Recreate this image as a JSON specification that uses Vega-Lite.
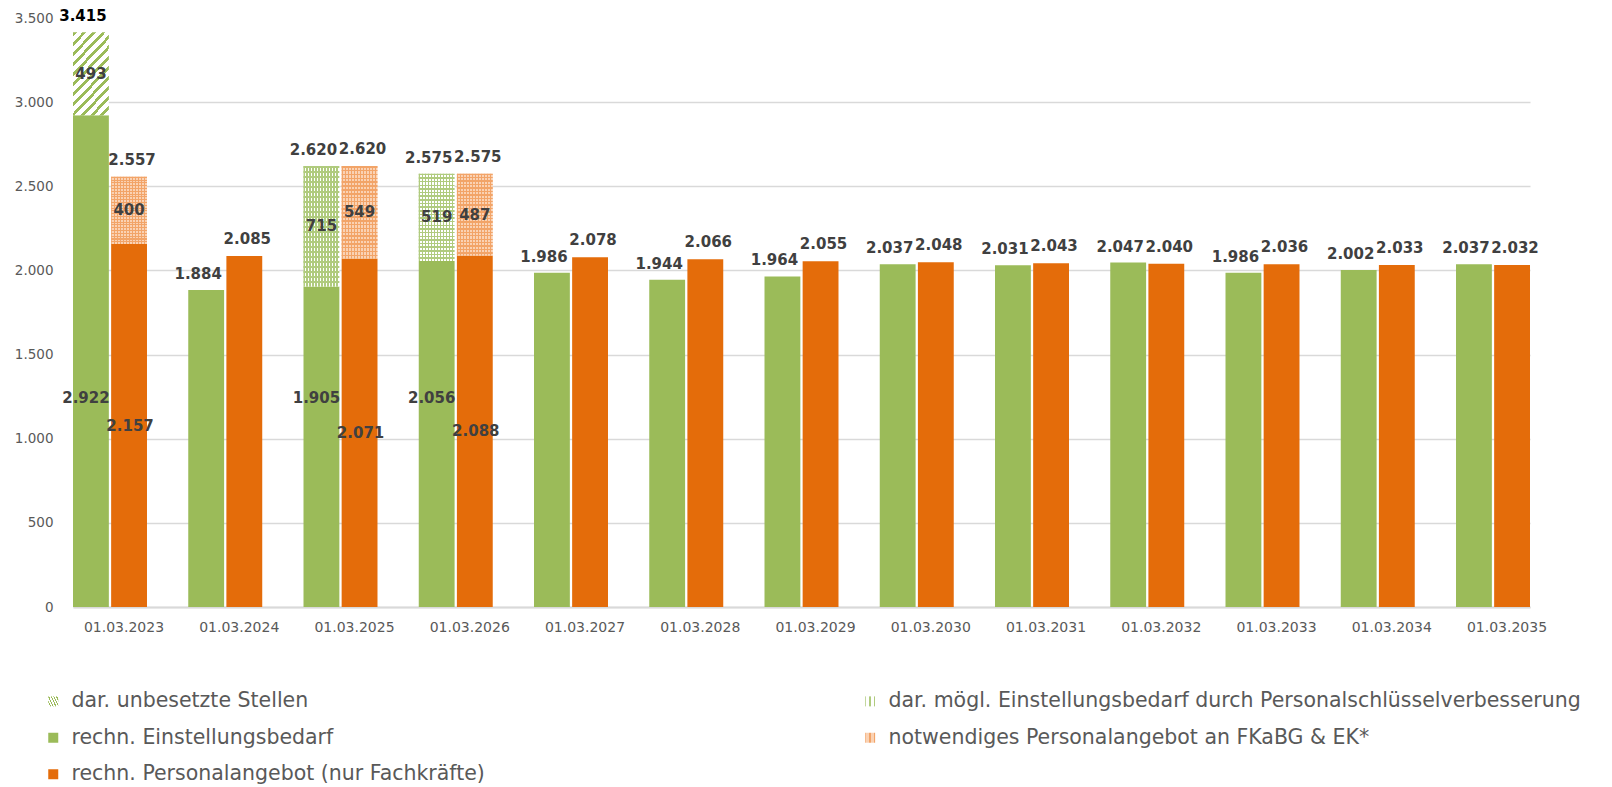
{
 "$schema": "https://vega.github.io/schema/vega-lite/v6.json",
 "width": 1457, "height": 589,
 "autosize": {"type": "none"},
 "padding": {"left": 73, "top": 18, "right": 82, "bottom": 180},
 "background": "white",
 "config": {
  "locale": {"number": {"decimal": ",", "thousands": ".", "grouping": [3], "currency": ["", " €"]}},
  "view": {"stroke": null},
  "font": "DejaVu Sans"
 },
 "params": [
  {"name": "gDiag", "value": {"gradient": "linear", "x1": 0, "y1": 0, "x2": 0.55, "y2": 1.21, "stops": [
        {"offset": 0, "color": "#9BBB59"}, {"offset": 0.0333, "color": "#9BBB59"}, {"offset": 0.0333, "color": "#ffffff"}, {"offset": 0.0833, "color": "#ffffff"},
        {"offset": 0.0833, "color": "#9BBB59"}, {"offset": 0.1167, "color": "#9BBB59"}, {"offset": 0.1167, "color": "#ffffff"}, {"offset": 0.1667, "color": "#ffffff"},
        {"offset": 0.1667, "color": "#9BBB59"}, {"offset": 0.2, "color": "#9BBB59"}, {"offset": 0.2, "color": "#ffffff"}, {"offset": 0.25, "color": "#ffffff"},
        {"offset": 0.25, "color": "#9BBB59"}, {"offset": 0.2833, "color": "#9BBB59"}, {"offset": 0.2833, "color": "#ffffff"}, {"offset": 0.3333, "color": "#ffffff"},
        {"offset": 0.3333, "color": "#9BBB59"}, {"offset": 0.3667, "color": "#9BBB59"}, {"offset": 0.3667, "color": "#ffffff"}, {"offset": 0.4167, "color": "#ffffff"},
        {"offset": 0.4167, "color": "#9BBB59"}, {"offset": 0.45, "color": "#9BBB59"}, {"offset": 0.45, "color": "#ffffff"}, {"offset": 0.5, "color": "#ffffff"},
        {"offset": 0.5, "color": "#9BBB59"}, {"offset": 0.5333, "color": "#9BBB59"}, {"offset": 0.5333, "color": "#ffffff"}, {"offset": 0.5833, "color": "#ffffff"},
        {"offset": 0.5833, "color": "#9BBB59"}, {"offset": 0.6167, "color": "#9BBB59"}, {"offset": 0.6167, "color": "#ffffff"}, {"offset": 0.6667, "color": "#ffffff"},
        {"offset": 0.6667, "color": "#9BBB59"}, {"offset": 0.7, "color": "#9BBB59"}, {"offset": 0.7, "color": "#ffffff"}, {"offset": 0.75, "color": "#ffffff"},
        {"offset": 0.75, "color": "#9BBB59"}, {"offset": 0.7833, "color": "#9BBB59"}, {"offset": 0.7833, "color": "#ffffff"}, {"offset": 0.8333, "color": "#ffffff"},
        {"offset": 0.8333, "color": "#9BBB59"}, {"offset": 0.8667, "color": "#9BBB59"}, {"offset": 0.8667, "color": "#ffffff"}, {"offset": 0.9167, "color": "#ffffff"},
        {"offset": 0.9167, "color": "#9BBB59"}, {"offset": 0.95, "color": "#9BBB59"}, {"offset": 0.95, "color": "#ffffff"}, {"offset": 1, "color": "#ffffff"}
  ]}},
  {"name": "gGridV", "value": {"gradient": "linear", "x1": 0, "y1": 0, "x2": 1, "y2": 0, "stops": [
        {"offset": 0, "color": "#B0CB7E"}, {"offset": 0.0333, "color": "#B0CB7E"}, {"offset": 0.0333, "color": "#ffffff"}, {"offset": 0.0833, "color": "#ffffff"},
        {"offset": 0.0833, "color": "#B0CB7E"}, {"offset": 0.1167, "color": "#B0CB7E"}, {"offset": 0.1167, "color": "#ffffff"}, {"offset": 0.1667, "color": "#ffffff"},
        {"offset": 0.1667, "color": "#B0CB7E"}, {"offset": 0.2, "color": "#B0CB7E"}, {"offset": 0.2, "color": "#ffffff"}, {"offset": 0.25, "color": "#ffffff"},
        {"offset": 0.25, "color": "#B0CB7E"}, {"offset": 0.2833, "color": "#B0CB7E"}, {"offset": 0.2833, "color": "#ffffff"}, {"offset": 0.3333, "color": "#ffffff"},
        {"offset": 0.3333, "color": "#B0CB7E"}, {"offset": 0.3667, "color": "#B0CB7E"}, {"offset": 0.3667, "color": "#ffffff"}, {"offset": 0.4167, "color": "#ffffff"},
        {"offset": 0.4167, "color": "#B0CB7E"}, {"offset": 0.45, "color": "#B0CB7E"}, {"offset": 0.45, "color": "#ffffff"}, {"offset": 0.5, "color": "#ffffff"},
        {"offset": 0.5, "color": "#B0CB7E"}, {"offset": 0.5333, "color": "#B0CB7E"}, {"offset": 0.5333, "color": "#ffffff"}, {"offset": 0.5833, "color": "#ffffff"},
        {"offset": 0.5833, "color": "#B0CB7E"}, {"offset": 0.6167, "color": "#B0CB7E"}, {"offset": 0.6167, "color": "#ffffff"}, {"offset": 0.6667, "color": "#ffffff"},
        {"offset": 0.6667, "color": "#B0CB7E"}, {"offset": 0.7, "color": "#B0CB7E"}, {"offset": 0.7, "color": "#ffffff"}, {"offset": 0.75, "color": "#ffffff"},
        {"offset": 0.75, "color": "#B0CB7E"}, {"offset": 0.7833, "color": "#B0CB7E"}, {"offset": 0.7833, "color": "#ffffff"}, {"offset": 0.8333, "color": "#ffffff"},
        {"offset": 0.8333, "color": "#B0CB7E"}, {"offset": 0.8667, "color": "#B0CB7E"}, {"offset": 0.8667, "color": "#ffffff"}, {"offset": 0.9167, "color": "#ffffff"},
        {"offset": 0.9167, "color": "#B0CB7E"}, {"offset": 0.95, "color": "#B0CB7E"}, {"offset": 0.95, "color": "#ffffff"}, {"offset": 1, "color": "#ffffff"}
  ]}},
  {"name": "gOrangeV", "value": {"gradient": "linear", "x1": 0, "y1": 0, "x2": 1, "y2": 0, "stops": [
        {"offset": 0, "color": "#F2A468"}, {"offset": 0.0333, "color": "#F2A468"}, {"offset": 0.0333, "color": "#FAD2B4"}, {"offset": 0.0833, "color": "#FAD2B4"},
        {"offset": 0.0833, "color": "#F2A468"}, {"offset": 0.1167, "color": "#F2A468"}, {"offset": 0.1167, "color": "#FAD2B4"}, {"offset": 0.1667, "color": "#FAD2B4"},
        {"offset": 0.1667, "color": "#F2A468"}, {"offset": 0.2, "color": "#F2A468"}, {"offset": 0.2, "color": "#FAD2B4"}, {"offset": 0.25, "color": "#FAD2B4"},
        {"offset": 0.25, "color": "#F2A468"}, {"offset": 0.2833, "color": "#F2A468"}, {"offset": 0.2833, "color": "#FAD2B4"}, {"offset": 0.3333, "color": "#FAD2B4"},
        {"offset": 0.3333, "color": "#F2A468"}, {"offset": 0.3667, "color": "#F2A468"}, {"offset": 0.3667, "color": "#FAD2B4"}, {"offset": 0.4167, "color": "#FAD2B4"},
        {"offset": 0.4167, "color": "#F2A468"}, {"offset": 0.45, "color": "#F2A468"}, {"offset": 0.45, "color": "#FAD2B4"}, {"offset": 0.5, "color": "#FAD2B4"},
        {"offset": 0.5, "color": "#F2A468"}, {"offset": 0.5333, "color": "#F2A468"}, {"offset": 0.5333, "color": "#FAD2B4"}, {"offset": 0.5833, "color": "#FAD2B4"},
        {"offset": 0.5833, "color": "#F2A468"}, {"offset": 0.6167, "color": "#F2A468"}, {"offset": 0.6167, "color": "#FAD2B4"}, {"offset": 0.6667, "color": "#FAD2B4"},
        {"offset": 0.6667, "color": "#F2A468"}, {"offset": 0.7, "color": "#F2A468"}, {"offset": 0.7, "color": "#FAD2B4"}, {"offset": 0.75, "color": "#FAD2B4"},
        {"offset": 0.75, "color": "#F2A468"}, {"offset": 0.7833, "color": "#F2A468"}, {"offset": 0.7833, "color": "#FAD2B4"}, {"offset": 0.8333, "color": "#FAD2B4"},
        {"offset": 0.8333, "color": "#F2A468"}, {"offset": 0.8667, "color": "#F2A468"}, {"offset": 0.8667, "color": "#FAD2B4"}, {"offset": 0.9167, "color": "#FAD2B4"},
        {"offset": 0.9167, "color": "#F2A468"}, {"offset": 0.95, "color": "#F2A468"}, {"offset": 0.95, "color": "#FAD2B4"}, {"offset": 1, "color": "#FAD2B4"}
  ]}},
  {"name": "ovGreen", "value": {"gradient": "linear", "x1": 0, "y1": 0, "x2": 0, "y2": 1, "stops": [
      {"offset": 0, "color": "#B0CB7E"}, {"offset": 0.0167, "color": "#B0CB7E"}, {"offset": 0.0167, "color": "rgba(255,255,255,0)"}, {"offset": 0.0417, "color": "rgba(255,255,255,0)"},
      {"offset": 0.0417, "color": "#B0CB7E"}, {"offset": 0.0583, "color": "#B0CB7E"}, {"offset": 0.0583, "color": "rgba(255,255,255,0)"}, {"offset": 0.0833, "color": "rgba(255,255,255,0)"},
      {"offset": 0.0833, "color": "#B0CB7E"}, {"offset": 0.1, "color": "#B0CB7E"}, {"offset": 0.1, "color": "rgba(255,255,255,0)"}, {"offset": 0.125, "color": "rgba(255,255,255,0)"},
      {"offset": 0.125, "color": "#B0CB7E"}, {"offset": 0.1417, "color": "#B0CB7E"}, {"offset": 0.1417, "color": "rgba(255,255,255,0)"}, {"offset": 0.1667, "color": "rgba(255,255,255,0)"},
      {"offset": 0.1667, "color": "#B0CB7E"}, {"offset": 0.1833, "color": "#B0CB7E"}, {"offset": 0.1833, "color": "rgba(255,255,255,0)"}, {"offset": 0.2083, "color": "rgba(255,255,255,0)"},
      {"offset": 0.2083, "color": "#B0CB7E"}, {"offset": 0.225, "color": "#B0CB7E"}, {"offset": 0.225, "color": "rgba(255,255,255,0)"}, {"offset": 0.25, "color": "rgba(255,255,255,0)"},
      {"offset": 0.25, "color": "#B0CB7E"}, {"offset": 0.2667, "color": "#B0CB7E"}, {"offset": 0.2667, "color": "rgba(255,255,255,0)"}, {"offset": 0.2917, "color": "rgba(255,255,255,0)"},
      {"offset": 0.2917, "color": "#B0CB7E"}, {"offset": 0.3083, "color": "#B0CB7E"}, {"offset": 0.3083, "color": "rgba(255,255,255,0)"}, {"offset": 0.3333, "color": "rgba(255,255,255,0)"},
      {"offset": 0.3333, "color": "#B0CB7E"}, {"offset": 0.35, "color": "#B0CB7E"}, {"offset": 0.35, "color": "rgba(255,255,255,0)"}, {"offset": 0.375, "color": "rgba(255,255,255,0)"},
      {"offset": 0.375, "color": "#B0CB7E"}, {"offset": 0.3917, "color": "#B0CB7E"}, {"offset": 0.3917, "color": "rgba(255,255,255,0)"}, {"offset": 0.4167, "color": "rgba(255,255,255,0)"},
      {"offset": 0.4167, "color": "#B0CB7E"}, {"offset": 0.4333, "color": "#B0CB7E"}, {"offset": 0.4333, "color": "rgba(255,255,255,0)"}, {"offset": 0.4583, "color": "rgba(255,255,255,0)"},
      {"offset": 0.4583, "color": "#B0CB7E"}, {"offset": 0.475, "color": "#B0CB7E"}, {"offset": 0.475, "color": "rgba(255,255,255,0)"}, {"offset": 0.5, "color": "rgba(255,255,255,0)"},
      {"offset": 0.5, "color": "#B0CB7E"}, {"offset": 0.5167, "color": "#B0CB7E"}, {"offset": 0.5167, "color": "rgba(255,255,255,0)"}, {"offset": 0.5417, "color": "rgba(255,255,255,0)"},
      {"offset": 0.5417, "color": "#B0CB7E"}, {"offset": 0.5583, "color": "#B0CB7E"}, {"offset": 0.5583, "color": "rgba(255,255,255,0)"}, {"offset": 0.5833, "color": "rgba(255,255,255,0)"},
      {"offset": 0.5833, "color": "#B0CB7E"}, {"offset": 0.6, "color": "#B0CB7E"}, {"offset": 0.6, "color": "rgba(255,255,255,0)"}, {"offset": 0.625, "color": "rgba(255,255,255,0)"},
      {"offset": 0.625, "color": "#B0CB7E"}, {"offset": 0.6417, "color": "#B0CB7E"}, {"offset": 0.6417, "color": "rgba(255,255,255,0)"}, {"offset": 0.6667, "color": "rgba(255,255,255,0)"},
      {"offset": 0.6667, "color": "#B0CB7E"}, {"offset": 0.6833, "color": "#B0CB7E"}, {"offset": 0.6833, "color": "rgba(255,255,255,0)"}, {"offset": 0.7083, "color": "rgba(255,255,255,0)"},
      {"offset": 0.7083, "color": "#B0CB7E"}, {"offset": 0.725, "color": "#B0CB7E"}, {"offset": 0.725, "color": "rgba(255,255,255,0)"}, {"offset": 0.75, "color": "rgba(255,255,255,0)"},
      {"offset": 0.75, "color": "#B0CB7E"}, {"offset": 0.7667, "color": "#B0CB7E"}, {"offset": 0.7667, "color": "rgba(255,255,255,0)"}, {"offset": 0.7917, "color": "rgba(255,255,255,0)"},
      {"offset": 0.7917, "color": "#B0CB7E"}, {"offset": 0.8083, "color": "#B0CB7E"}, {"offset": 0.8083, "color": "rgba(255,255,255,0)"}, {"offset": 0.8333, "color": "rgba(255,255,255,0)"},
      {"offset": 0.8333, "color": "#B0CB7E"}, {"offset": 0.85, "color": "#B0CB7E"}, {"offset": 0.85, "color": "rgba(255,255,255,0)"}, {"offset": 0.875, "color": "rgba(255,255,255,0)"},
      {"offset": 0.875, "color": "#B0CB7E"}, {"offset": 0.8917, "color": "#B0CB7E"}, {"offset": 0.8917, "color": "rgba(255,255,255,0)"}, {"offset": 0.9167, "color": "rgba(255,255,255,0)"},
      {"offset": 0.9167, "color": "#B0CB7E"}, {"offset": 0.9333, "color": "#B0CB7E"}, {"offset": 0.9333, "color": "rgba(255,255,255,0)"}, {"offset": 0.9583, "color": "rgba(255,255,255,0)"},
      {"offset": 0.9583, "color": "#B0CB7E"}, {"offset": 0.975, "color": "#B0CB7E"}, {"offset": 0.975, "color": "rgba(255,255,255,0)"}, {"offset": 1, "color": "rgba(255,255,255,0)"}
  ]}},
  {"name": "ovOrange", "value": {"gradient": "linear", "x1": 0, "y1": 0, "x2": 0, "y2": 1, "stops": [
      {"offset": 0, "color": "#F2A468"}, {"offset": 0.0167, "color": "#F2A468"}, {"offset": 0.0167, "color": "rgba(255,255,255,0)"}, {"offset": 0.0417, "color": "rgba(255,255,255,0)"},
      {"offset": 0.0417, "color": "#F2A468"}, {"offset": 0.0583, "color": "#F2A468"}, {"offset": 0.0583, "color": "rgba(255,255,255,0)"}, {"offset": 0.0833, "color": "rgba(255,255,255,0)"},
      {"offset": 0.0833, "color": "#F2A468"}, {"offset": 0.1, "color": "#F2A468"}, {"offset": 0.1, "color": "rgba(255,255,255,0)"}, {"offset": 0.125, "color": "rgba(255,255,255,0)"},
      {"offset": 0.125, "color": "#F2A468"}, {"offset": 0.1417, "color": "#F2A468"}, {"offset": 0.1417, "color": "rgba(255,255,255,0)"}, {"offset": 0.1667, "color": "rgba(255,255,255,0)"},
      {"offset": 0.1667, "color": "#F2A468"}, {"offset": 0.1833, "color": "#F2A468"}, {"offset": 0.1833, "color": "rgba(255,255,255,0)"}, {"offset": 0.2083, "color": "rgba(255,255,255,0)"},
      {"offset": 0.2083, "color": "#F2A468"}, {"offset": 0.225, "color": "#F2A468"}, {"offset": 0.225, "color": "rgba(255,255,255,0)"}, {"offset": 0.25, "color": "rgba(255,255,255,0)"},
      {"offset": 0.25, "color": "#F2A468"}, {"offset": 0.2667, "color": "#F2A468"}, {"offset": 0.2667, "color": "rgba(255,255,255,0)"}, {"offset": 0.2917, "color": "rgba(255,255,255,0)"},
      {"offset": 0.2917, "color": "#F2A468"}, {"offset": 0.3083, "color": "#F2A468"}, {"offset": 0.3083, "color": "rgba(255,255,255,0)"}, {"offset": 0.3333, "color": "rgba(255,255,255,0)"},
      {"offset": 0.3333, "color": "#F2A468"}, {"offset": 0.35, "color": "#F2A468"}, {"offset": 0.35, "color": "rgba(255,255,255,0)"}, {"offset": 0.375, "color": "rgba(255,255,255,0)"},
      {"offset": 0.375, "color": "#F2A468"}, {"offset": 0.3917, "color": "#F2A468"}, {"offset": 0.3917, "color": "rgba(255,255,255,0)"}, {"offset": 0.4167, "color": "rgba(255,255,255,0)"},
      {"offset": 0.4167, "color": "#F2A468"}, {"offset": 0.4333, "color": "#F2A468"}, {"offset": 0.4333, "color": "rgba(255,255,255,0)"}, {"offset": 0.4583, "color": "rgba(255,255,255,0)"},
      {"offset": 0.4583, "color": "#F2A468"}, {"offset": 0.475, "color": "#F2A468"}, {"offset": 0.475, "color": "rgba(255,255,255,0)"}, {"offset": 0.5, "color": "rgba(255,255,255,0)"},
      {"offset": 0.5, "color": "#F2A468"}, {"offset": 0.5167, "color": "#F2A468"}, {"offset": 0.5167, "color": "rgba(255,255,255,0)"}, {"offset": 0.5417, "color": "rgba(255,255,255,0)"},
      {"offset": 0.5417, "color": "#F2A468"}, {"offset": 0.5583, "color": "#F2A468"}, {"offset": 0.5583, "color": "rgba(255,255,255,0)"}, {"offset": 0.5833, "color": "rgba(255,255,255,0)"},
      {"offset": 0.5833, "color": "#F2A468"}, {"offset": 0.6, "color": "#F2A468"}, {"offset": 0.6, "color": "rgba(255,255,255,0)"}, {"offset": 0.625, "color": "rgba(255,255,255,0)"},
      {"offset": 0.625, "color": "#F2A468"}, {"offset": 0.6417, "color": "#F2A468"}, {"offset": 0.6417, "color": "rgba(255,255,255,0)"}, {"offset": 0.6667, "color": "rgba(255,255,255,0)"},
      {"offset": 0.6667, "color": "#F2A468"}, {"offset": 0.6833, "color": "#F2A468"}, {"offset": 0.6833, "color": "rgba(255,255,255,0)"}, {"offset": 0.7083, "color": "rgba(255,255,255,0)"},
      {"offset": 0.7083, "color": "#F2A468"}, {"offset": 0.725, "color": "#F2A468"}, {"offset": 0.725, "color": "rgba(255,255,255,0)"}, {"offset": 0.75, "color": "rgba(255,255,255,0)"},
      {"offset": 0.75, "color": "#F2A468"}, {"offset": 0.7667, "color": "#F2A468"}, {"offset": 0.7667, "color": "rgba(255,255,255,0)"}, {"offset": 0.7917, "color": "rgba(255,255,255,0)"},
      {"offset": 0.7917, "color": "#F2A468"}, {"offset": 0.8083, "color": "#F2A468"}, {"offset": 0.8083, "color": "rgba(255,255,255,0)"}, {"offset": 0.8333, "color": "rgba(255,255,255,0)"},
      {"offset": 0.8333, "color": "#F2A468"}, {"offset": 0.85, "color": "#F2A468"}, {"offset": 0.85, "color": "rgba(255,255,255,0)"}, {"offset": 0.875, "color": "rgba(255,255,255,0)"},
      {"offset": 0.875, "color": "#F2A468"}, {"offset": 0.8917, "color": "#F2A468"}, {"offset": 0.8917, "color": "rgba(255,255,255,0)"}, {"offset": 0.9167, "color": "rgba(255,255,255,0)"},
      {"offset": 0.9167, "color": "#F2A468"}, {"offset": 0.9333, "color": "#F2A468"}, {"offset": 0.9333, "color": "rgba(255,255,255,0)"}, {"offset": 0.9583, "color": "rgba(255,255,255,0)"},
      {"offset": 0.9583, "color": "#F2A468"}, {"offset": 0.975, "color": "#F2A468"}, {"offset": 0.975, "color": "rgba(255,255,255,0)"}, {"offset": 1, "color": "rgba(255,255,255,0)"}
  ]}}
 ],
 "data": {"values": [
  {"date": "01.03.2023", "side": "Bedarf", "part": "rechn. Einstellungsbedarf", "value": 2922},
  {"date": "01.03.2023", "side": "Bedarf", "part": "dar. unbesetzte Stellen", "value": 493},
  {"date": "01.03.2023", "side": "Angebot", "part": "rechn. Personalangebot (nur Fachkräfte)", "value": 2157},
  {"date": "01.03.2023", "side": "Angebot", "part": "notwendiges Personalangebot an FKaBG & EK*", "value": 400},
  {"date": "01.03.2024", "side": "Bedarf", "part": "rechn. Einstellungsbedarf", "value": 1884},
  {"date": "01.03.2024", "side": "Angebot", "part": "rechn. Personalangebot (nur Fachkräfte)", "value": 2085},
  {"date": "01.03.2025", "side": "Bedarf", "part": "rechn. Einstellungsbedarf", "value": 1905},
  {"date": "01.03.2025", "side": "Bedarf", "part": "dar. mögl. Einstellungsbedarf durch Personalschlüsselverbesserung", "value": 715},
  {"date": "01.03.2025", "side": "Angebot", "part": "rechn. Personalangebot (nur Fachkräfte)", "value": 2071},
  {"date": "01.03.2025", "side": "Angebot", "part": "notwendiges Personalangebot an FKaBG & EK*", "value": 549},
  {"date": "01.03.2026", "side": "Bedarf", "part": "rechn. Einstellungsbedarf", "value": 2056},
  {"date": "01.03.2026", "side": "Bedarf", "part": "dar. mögl. Einstellungsbedarf durch Personalschlüsselverbesserung", "value": 519},
  {"date": "01.03.2026", "side": "Angebot", "part": "rechn. Personalangebot (nur Fachkräfte)", "value": 2088},
  {"date": "01.03.2026", "side": "Angebot", "part": "notwendiges Personalangebot an FKaBG & EK*", "value": 487},
  {"date": "01.03.2027", "side": "Bedarf", "part": "rechn. Einstellungsbedarf", "value": 1986},
  {"date": "01.03.2027", "side": "Angebot", "part": "rechn. Personalangebot (nur Fachkräfte)", "value": 2078},
  {"date": "01.03.2028", "side": "Bedarf", "part": "rechn. Einstellungsbedarf", "value": 1944},
  {"date": "01.03.2028", "side": "Angebot", "part": "rechn. Personalangebot (nur Fachkräfte)", "value": 2066},
  {"date": "01.03.2029", "side": "Bedarf", "part": "rechn. Einstellungsbedarf", "value": 1964},
  {"date": "01.03.2029", "side": "Angebot", "part": "rechn. Personalangebot (nur Fachkräfte)", "value": 2055},
  {"date": "01.03.2030", "side": "Bedarf", "part": "rechn. Einstellungsbedarf", "value": 2037},
  {"date": "01.03.2030", "side": "Angebot", "part": "rechn. Personalangebot (nur Fachkräfte)", "value": 2048},
  {"date": "01.03.2031", "side": "Bedarf", "part": "rechn. Einstellungsbedarf", "value": 2031},
  {"date": "01.03.2031", "side": "Angebot", "part": "rechn. Personalangebot (nur Fachkräfte)", "value": 2043},
  {"date": "01.03.2032", "side": "Bedarf", "part": "rechn. Einstellungsbedarf", "value": 2047},
  {"date": "01.03.2032", "side": "Angebot", "part": "rechn. Personalangebot (nur Fachkräfte)", "value": 2040},
  {"date": "01.03.2033", "side": "Bedarf", "part": "rechn. Einstellungsbedarf", "value": 1986},
  {"date": "01.03.2033", "side": "Angebot", "part": "rechn. Personalangebot (nur Fachkräfte)", "value": 2036},
  {"date": "01.03.2034", "side": "Bedarf", "part": "rechn. Einstellungsbedarf", "value": 2002},
  {"date": "01.03.2034", "side": "Angebot", "part": "rechn. Personalangebot (nur Fachkräfte)", "value": 2033},
  {"date": "01.03.2035", "side": "Bedarf", "part": "rechn. Einstellungsbedarf", "value": 2037},
  {"date": "01.03.2035", "side": "Angebot", "part": "rechn. Personalangebot (nur Fachkräfte)", "value": 2032}
 ]},
 "transform": [
  {"stack": "value", "groupby": ["date", "side"], "sort": [{"field": "part", "order": "descending"}], "as": ["v0", "v1"]},
  {"joinaggregate": [{"op": "sum", "field": "value", "as": "total"}, {"op": "count", "as": "n"}], "groupby": ["date", "side"]},
  {"calculate": "(datum.v0 + datum.v1) / 2", "as": "mid"}
 ],
 "encoding": {
  "x": {"field": "date", "type": "nominal", "scale": {"paddingInner": 0.358, "paddingOuter": 0},
   "axis": {"title": null, "labelAngle": 0, "labelFont": "DejaVu Sans", "labelFontSize": 14, "labelColor": "#595959", "labelPadding": 13, "labelOffset": 14, "ticks": false, "domainColor": "#d9d9d9", "domainWidth": 2, "grid": false}},
  "xOffset": {"field": "side", "type": "nominal", "scale": {"domain": ["Bedarf", "Angebot"], "paddingInner": 0.06}}
 },
 "layer": [
  {
   "mark": {"type": "bar"},
   "encoding": {
    "y": {"field": "v1", "type": "quantitative", "scale": {"domain": [0, 3500], "nice": false},
     "axis": {"title": null, "values": [0, 500, 1000, 1500, 2000, 2500, 3000, 3500], "format": ",d", "domain": false, "ticks": false, "labelPadding": 20, "labelFont": "DejaVu Sans", "labelFontSize": 13.5, "labelColor": "#595959", "gridWidth": 1.5, "gridColor": {"condition": {"test": "datum.value >= 3500", "value": "transparent"}, "value": "#d9d9d9"}}},
    "y2": {"field": "v0"},
    "color": {"field": "part", "type": "nominal",
     "scale": {
      "domain": ["dar. unbesetzte Stellen", "dar. mögl. Einstellungsbedarf durch Personalschlüsselverbesserung", "rechn. Einstellungsbedarf", "notwendiges Personalangebot an FKaBG & EK*", "rechn. Personalangebot (nur Fachkräfte)"],
      "range": [{"expr": "gDiag"}, {"expr": "gGridV"}, "#9BBB59", {"expr": "gOrangeV"}, "#E46C0A"]
     },
     "legend": {"title": null, "orient": "none", "direction": "horizontal", "legendX": -30, "legendY": 673, "columns": 2, "columnPadding": 375, "rowPadding": 15.5, "symbolType": "square", "symbolSize": 100, "symbolStrokeWidth": 0, "labelFont": "DejaVu Sans", "labelFontSize": 20.5, "labelColor": "#595959", "labelLimit": 900, "labelOffset": 8, "padding": 0}
    }
   }
  },
  {
   "transform": [{"filter": "indexof(datum.part, 'mögl.') >= 0"}],
   "mark": {"type": "bar", "fill": {"expr": "ovGreen"}},
   "encoding": {
    "y": {"field": "v1", "type": "quantitative"},
    "y2": {"field": "v0"}
   }
  },
  {
   "transform": [{"filter": "indexof(datum.part, 'notwendiges') == 0"}],
   "mark": {"type": "bar", "fill": {"expr": "ovOrange"}},
   "encoding": {
    "y": {"field": "v1", "type": "quantitative"},
    "y2": {"field": "v0"}
   }
  },
  {
   "transform": [{"filter": "datum.side == 'Bedarf' && indexof(datum.part, 'rechn.') == 0"}],
   "mark": {"type": "text", "font": "DejaVu Sans", "fontWeight": "bold", "fontSize": 15, "baseline": "alphabetic", "dy": -11, "dx": -8},
   "encoding": {
    "y": {"field": "total", "type": "quantitative"},
    "text": {"field": "total", "type": "quantitative", "format": ",d"},
    "color": {"condition": {"test": "datum.total == 3415", "value": "#000000"}, "value": "#404040"}
   }
  },
  {
   "transform": [{"filter": "datum.side == 'Angebot' && indexof(datum.part, 'rechn.') == 0"}],
   "mark": {"type": "text", "font": "DejaVu Sans", "fontWeight": "bold", "fontSize": 15, "baseline": "alphabetic", "dy": -12, "dx": 3, "color": "#404040"},
   "encoding": {
    "y": {"field": "total", "type": "quantitative"},
    "text": {"field": "total", "type": "quantitative", "format": ",d"}
   }
  },
  {
   "transform": [{"filter": "indexof(datum.part, 'rechn.') != 0"}],
   "mark": {"type": "text", "font": "DejaVu Sans", "fontWeight": "bold", "fontSize": 15, "baseline": "middle", "color": "#404040"},
   "encoding": {
    "y": {"field": "mid", "type": "quantitative"},
    "text": {"field": "value", "type": "quantitative", "format": ",d"}
   }
  },
  {
   "transform": [{"filter": "datum.side == 'Bedarf' && datum.n > 1 && indexof(datum.part, 'rechn.') == 0"}],
   "mark": {"type": "text", "font": "DejaVu Sans", "fontWeight": "bold", "fontSize": 15, "baseline": "middle", "dx": -5, "color": "#404040"},
   "encoding": {
    "y": {"datum": 1240, "type": "quantitative"},
    "text": {"field": "value", "type": "quantitative", "format": ",d"}
   }
  },
  {
   "transform": [{"filter": "datum.side == 'Angebot' && datum.n > 1 && indexof(datum.part, 'rechn.') == 0"}],
   "mark": {"type": "text", "font": "DejaVu Sans", "fontWeight": "bold", "fontSize": 15, "baseline": "middle", "dx": 1, "color": "#404040"},
   "encoding": {
    "y": {"field": "mid", "type": "quantitative"},
    "text": {"field": "value", "type": "quantitative", "format": ",d"}
   }
  }
 ]
}
